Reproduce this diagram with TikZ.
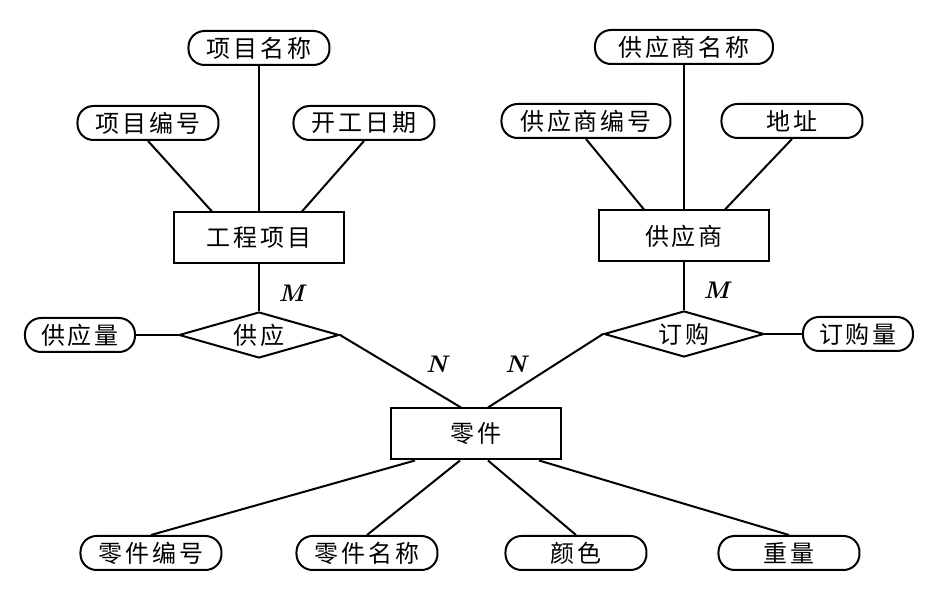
\documentclass[tikz,border=0pt]{standalone}
\usepackage{fontspec}
\newfontfamily\cjk[LetterSpace=12]{Noto Sans CJK SC}
\usepackage{tikz}
\usetikzlibrary{shapes.geometric}
\tikzstyle{entity} = [rectangle, minimum width=85pt, minimum height=25.5pt, text centered, draw=black, fill=white, font=\cjk\fontsize{12}{14}\selectfont]
\tikzstyle{attrib} = [rectangle, rounded corners=8pt, minimum width=70.5pt, minimum height=17pt, inner sep=1pt, text centered, draw=black, fill=white, font=\cjk\fontsize{12}{14}\selectfont]
\tikzstyle{relation} = [diamond, aspect=3.5, minimum width=80pt, minimum height=23pt, inner sep=1pt, text centered, draw=black, fill=white, font=\cjk\fontsize{12}{14}\selectfont]
\tikzstyle{card} = [font=\fontsize{12}{14}\selectfont\bfseries\itshape]

\begin{document}
\begin{tikzpicture}[node distance=57.5pt, line width=1pt]
		\useasboundingbox (-129.5pt,-186.5pt) rectangle (337.5pt,119pt);
		\node (proj) [entity] {工程项目};
		\node (pname) [attrib, above of=proj, yshift=37.5pt] {项目名称};
		\node (pno) [attrib, above of=proj, xshift=-55.5pt] {项目编号};
		\node (pdate) [attrib, above of=proj, xshift=52.5pt] {开工日期};
		\node (supply) [relation, below of=proj, yshift=9pt] {供应};
		\node (sqty) [attrib, left of=supply, xshift=-32pt, minimum width=55pt] {供应量};

		\node (vendor) [entity, right of=proj, xshift=155pt, yshift=1pt] {供应商};
		\node (vname) [attrib, above of=vendor, yshift=37pt, minimum width=89pt] {供应商名称};
		\node (vno) [attrib, above of=vendor, xshift=-49pt, minimum width=84.5pt] {供应商编号};
		\node (addr) [attrib, above of=vendor, xshift=54pt] {地址};
		\node (order) [relation, below of=vendor, yshift=8.5pt] {订购};
		\node (oqty) [attrib, right of=order, xshift=29.5pt, minimum width=55pt] {订购量};

		\node (part) [entity, below of=proj, xshift=108.5pt, yshift=-40.5pt] {零件};
		\node (partno) [attrib, below of=part, xshift=-162.5pt, yshift=-2pt] {零件编号};
		\node (partname) [attrib, below of=part, xshift=-54.5pt, yshift=-2pt] {零件名称};
		\node (colour) [attrib, below of=part, xshift=50pt, yshift=-2pt] {颜色};
		\node (weight) [attrib, below of=part, xshift=156.5pt, yshift=-2pt] {重量};

		\draw (pname) -- (proj);
		\draw (pno.south) -- ([xshift=-23.5pt]proj.north);
		\draw (pdate.south) -- ([xshift=21.5pt]proj.north);
		\draw (proj) -- node[card, right, xshift=6pt, yshift=-3pt] {M} (supply);
		\draw (sqty) -- (supply);
		\draw (supply.east) -- node[card, pos=0.6, xshift=12pt, yshift=7pt] {N} ([xshift=-7.5pt]part.north);

		\draw (vname) -- (vendor);
		\draw (vno.south) -- ([xshift=-20pt]vendor.north);
		\draw (addr.south) -- ([xshift=20.5pt]vendor.north);
		\draw (vendor) -- node[card, right, xshift=6pt, yshift=-2pt] {M} (order);
		\draw (order) -- (oqty);
		\draw (order.west) -- node[card, pos=0.6, xshift=-9pt, yshift=7pt] {N} ([xshift=6pt]part.north);

		\draw ([xshift=-30.5pt]part.south) -- (partno.north);
		\draw ([xshift=-8pt]part.south) -- (partname.north);
		\draw ([xshift=6pt]part.south) -- (colour.north);
		\draw ([xshift=31.5pt]part.south) -- (weight.north);
	\end{tikzpicture}
\end{document}
